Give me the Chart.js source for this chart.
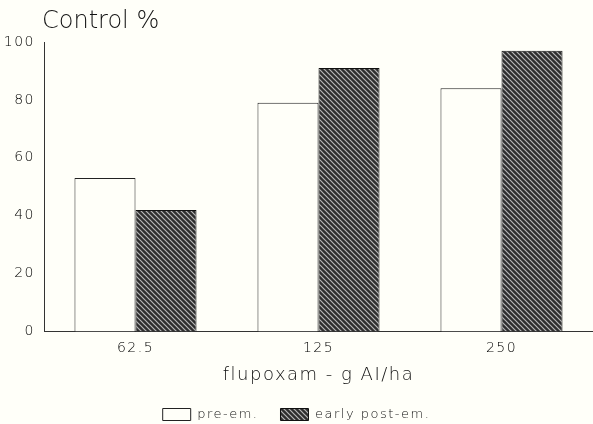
<!DOCTYPE html>
<html>
<head>
<meta charset="utf-8">
<script src="https://cdn.jsdelivr.net/npm/chart.js@4.4.0/dist/chart.umd.min.js"></script>
<style>
  html, body { margin: 0; padding: 0; background: #fffff9; }
  #wrap { width: 593px; height: 424px; }
</style>
</head>
<body>
<div id="wrap"><canvas id="chart" width="593" height="424"></canvas></div>
<script>
const categories = ['62.5', '125', '250'];
const preEm = [53, 79, 84];
const earlyPostEm = [42, 91, 97];
const yTicks = [0, 20, 40, 60, 80, 100];

// diagonal hatch for the post-em bars
function hatch() {
    const c = document.createElement('canvas');
    c.width = 5; c.height = 5;
    const g = c.getContext('2d');
    g.fillStyle = '#2e2e2e';
    g.fillRect(0, 0, 5, 5);
    g.strokeStyle = '#b8b8b8';
    g.lineWidth = 1.2;
    g.beginPath();
    g.moveTo(-1, -1); g.lineTo(6, 6);
    g.moveTo(-1, 4); g.lineTo(1, 6);
    g.moveTo(4, -1); g.lineTo(6, 1);
    g.stroke();
    return g.createPattern(c, 'repeat');
}

// wide letter spacing like the typewriter-ish original
const spacing = {
    id: 'spacing',
    beforeLayout(chart) { chart.ctx.letterSpacing = '1.5px'; },
    beforeDraw(chart) { chart.ctx.letterSpacing = '1.5px'; }
};

const titlePlugin = {
    id: 'cornerTitle',
    afterDraw(chart) {
        const ctx = chart.ctx;
        ctx.save();
        ctx.fillStyle = '#111';
        ctx.font = '300 24px "DejaVu Sans", sans-serif';
        ctx.letterSpacing = '0px';
        ctx.textBaseline = 'alphabetic';
        ctx.fillText('Control %', chart.chartArea.left - 2, 28);
        ctx.restore();
    }
};

const ctx = document.getElementById('chart').getContext('2d');
const chart = new Chart(ctx, {
    type: 'bar',
    data: {
        labels: categories,
        datasets: [
            {
                label: 'pre-em.',
                data: preEm,
                backgroundColor: '#fffff9',
                borderColor: '#222',
                borderWidth: 1
            },
            {
                label: 'early post-em.',
                data: earlyPostEm,
                backgroundColor: hatch(),
                borderColor: '#111',
                borderWidth: 1
            }
        ]
    },
    options: {
        responsive: false,
        animation: false,
        layout: { padding: { top: 42, right: 0, bottom: -7, left: 0 } },
        datasets: {
            bar: { categoryPercentage: 0.667, barPercentage: 1 }
        },
        scales: {
            x: {
                grid: { display: false, drawTicks: false },
                border: { color: '#333', width: 1 },
                ticks: { color: '#000', font: { size: 14, family: 'DejaVu Sans', weight: 300 }, padding: 8 },
                title: {
                    display: true,
                    text: 'flupoxam - g AI/ha',
                    color: '#111',
                    font: { size: 18, family: 'DejaVu Sans', weight: 300 },
                    padding: { top: 0, bottom: 0 }
                }
            },
            y: {
                min: 0,
                max: 100,
                afterFit: axis => { axis.width = 44; },
                afterBuildTicks: axis => { axis.ticks = yTicks.map(v => ({ value: v })); },
                grid: { display: false, drawTicks: true, tickLength: 5, tickColor: '#333' },
                border: { color: '#333', width: 1 },
                ticks: { color: '#000', font: { size: 14, family: 'DejaVu Sans', weight: 300 }, padding: 4 }
            }
        },
        plugins: {
            legend: {
                position: 'bottom',
                labels: {
                    boxWidth: 28,
                    boxHeight: 12,
                    color: '#111',
                    font: { size: 13, family: 'DejaVu Sans', weight: 300 },
                    padding: 22
                }
            },
            tooltip: { enabled: false }
        }
    },
    plugins: [spacing, titlePlugin]
});
</script>
</body>
</html>
